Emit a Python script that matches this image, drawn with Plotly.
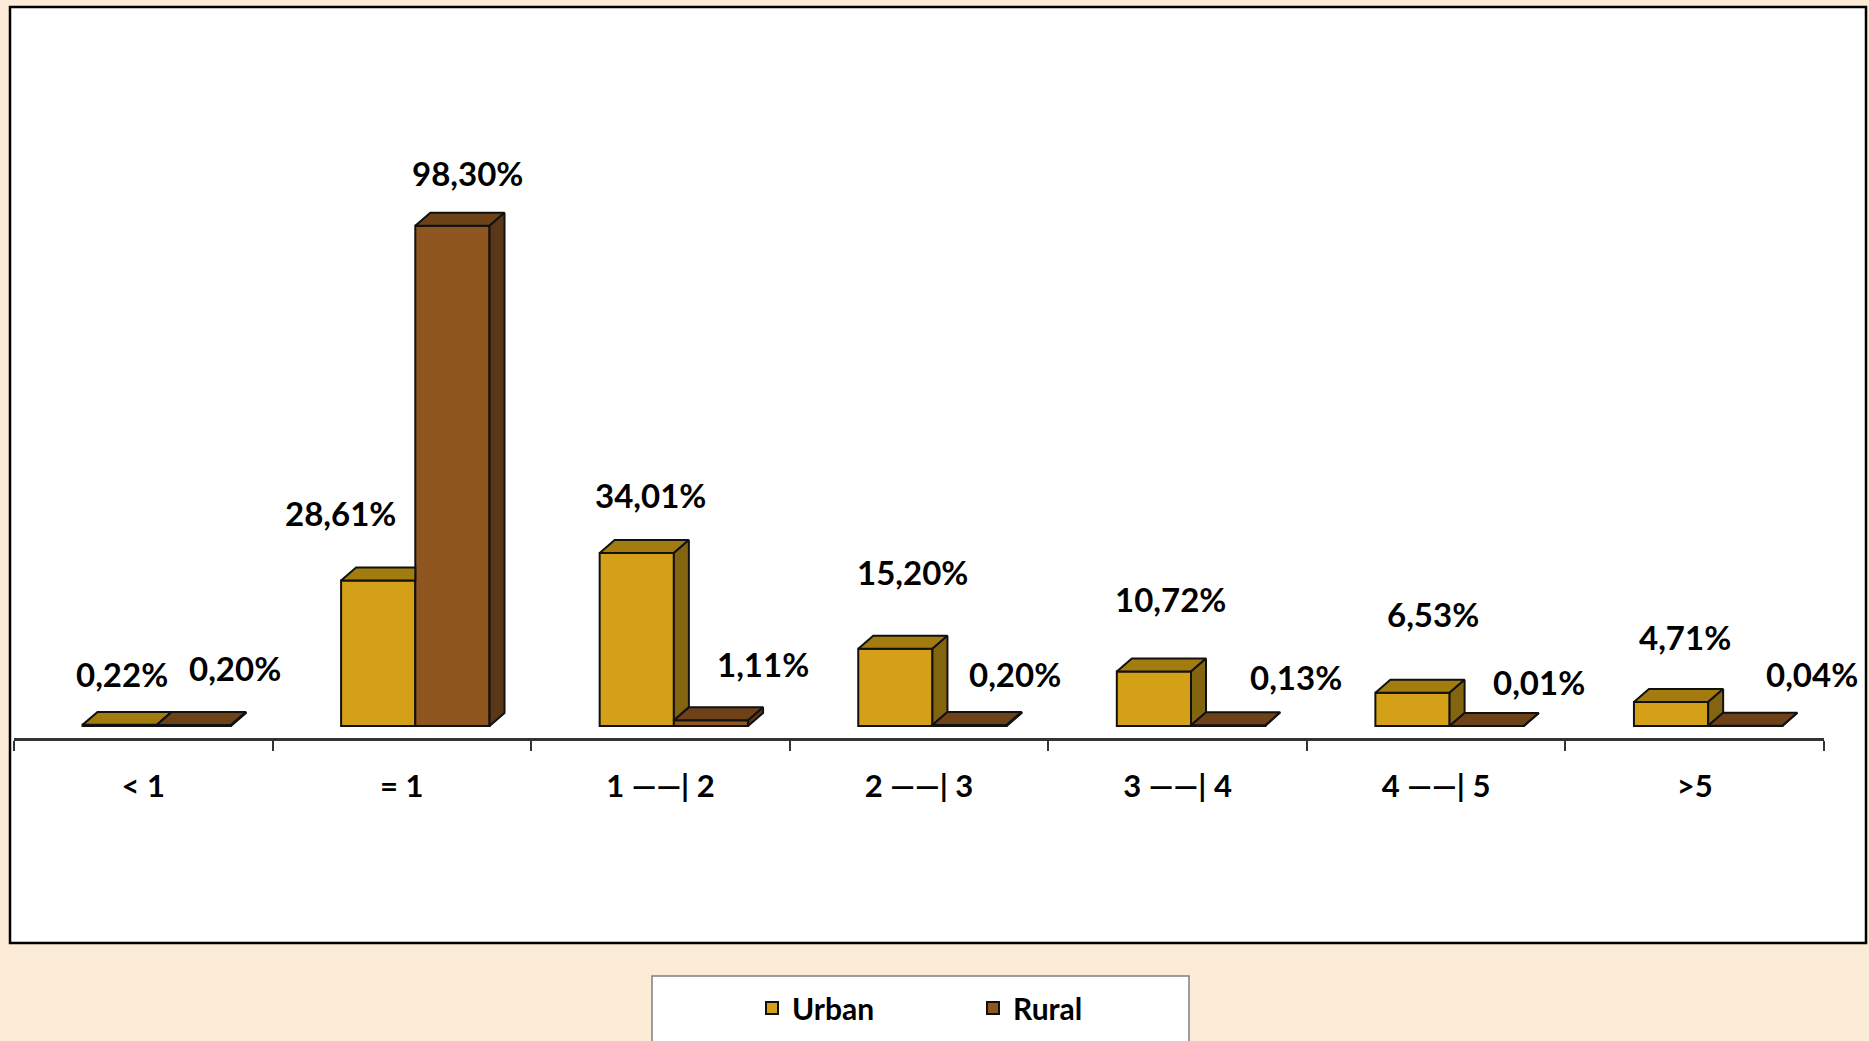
import plotly.graph_objects as go

# ---------------- data ----------------
categories = ["< 1", "= 1", "1 ——| 2", "2 ——| 3", "3 ——| 4", "4 ——| 5", ">5"]
urban = [0.22, 28.61, 34.01, 15.20, 10.72, 6.53, 4.71]
rural = [0.20, 98.30, 1.11, 0.20, 0.13, 0.01, 0.04]
series_names = ["Urban", "Rural"]

# ---------------- style ----------------
W, H = 1869, 1041
PL, PR, PT, PB = 14, 45, 7, 303          # plot-area margins (px)
FONT = "Lato"
BG = "#FBEBD7"
URB = dict(front="#D4A017", top="#A27C0E", side="#836510")
RUR = dict(front="#8F5620", top="#6E4219", side="#5A3716")
OUT = "#111111"
BAR_W = 0.287
URB_OFF = -0.235
RUR_OFF = URB_OFF + BAR_W
DX = 0.058    # 3-D depth, category units
DY = 2.55     # 3-D depth, value units
Y_RANGE = [-2.36, 141.3]
LBL_SIZE = 33
TICK_SIZE = 31

# label pixel offsets (style only)
urb_lbl_dx = [2, -38, 14, 17, 17, 21, 14]
urb_lbl_dy = [51, 67, 58, 77, 72, 79, 65]
rur_lbl_dx = [41, 15, 52, 45, 68, 52, 67]
rur_lbl_dy = [57, 53, 56, 51, 48, 44, 52]

n = len(categories)
xs = list(range(n))

def fmt(v):
    return f"{v:.2f}".replace(".", ",") + "%"

def top_poly(x0, x1, h):
    return [x0, x1, x1 + DX, x0 + DX, x0, None], [h, h, h + DY, h + DY, h, None]

def side_poly(x1, h0, h1):
    return [x1, x1 + DX, x1 + DX, x1, x1, None], [h0, h0 + DY, h1 + DY, h1, h0, None]

fig = go.Figure()

# front faces as real bars
fig.add_trace(go.Bar(x=xs, y=urban, name=series_names[0], width=BAR_W, offset=URB_OFF,
                     marker=dict(color=URB["front"], line=dict(color=OUT, width=2)),
                     hoverinfo="skip"))
fig.add_trace(go.Bar(x=xs, y=rural, name=series_names[1], width=BAR_W, offset=RUR_OFF,
                     marker=dict(color=RUR["front"], line=dict(color=OUT, width=2)),
                     hoverinfo="skip"))

# 3-D faces computed from the data
ut_x, ut_y, us_x, us_y, rt_x, rt_y, rs_x, rs_y = ([] for _ in range(8))
for i in xs:
    ux0, ux1 = i + URB_OFF, i + URB_OFF + BAR_W
    rx0, rx1 = i + RUR_OFF, i + RUR_OFF + BAR_W
    hu, hr = urban[i], rural[i]
    if hr >= hu:   # urban top partly hidden behind rural front
        px = [ux0, ux1, ux1, ux0 + DX, ux0, None]
        py = [hu, hu, hu + DY, hu + DY, hu, None]
    else:
        px, py = top_poly(ux0, ux1, hu)
        sx, sy = side_poly(ux1, hr, hu)
        us_x += sx; us_y += sy
    ut_x += px; ut_y += py
    px, py = top_poly(rx0, rx1, hr)
    rt_x += px; rt_y += py
    sx, sy = side_poly(rx1, 0, hr)
    rs_x += sx; rs_y += sy

for fx, fy, col in [(ut_x, ut_y, URB["top"]), (us_x, us_y, URB["side"]),
                    (rt_x, rt_y, RUR["top"]), (rs_x, rs_y, RUR["side"])]:
    fig.add_trace(go.Scatter(x=fx, y=fy, mode="lines", fill="toself", fillcolor=col,
                             line=dict(color=OUT, width=2), showlegend=False,
                             hoverinfo="skip"))

# data labels
ann = []
for i in xs:
    ann.append(dict(x=i + URB_OFF + BAR_W / 2, y=urban[i], xref="x", yref="y",
                    text=fmt(urban[i]), showarrow=False, xanchor="center", yanchor="middle",
                    xshift=urb_lbl_dx[i], yshift=urb_lbl_dy[i],
                    font=dict(family=FONT, size=LBL_SIZE, color="#000000", weight="bold")))
    ann.append(dict(x=i + RUR_OFF + BAR_W / 2, y=rural[i], xref="x", yref="y",
                    text=fmt(rural[i]), showarrow=False, xanchor="center", yanchor="middle",
                    xshift=rur_lbl_dx[i], yshift=rur_lbl_dy[i],
                    font=dict(family=FONT, size=LBL_SIZE, color="#000000", weight="bold")))

pw = W - PL - PR
ph = H - PT - PB
def px2x(p):
    return (p - PL) / pw
def py2y(p):
    return (H - PB - p) / ph

shapes = [
    dict(type="rect", xref="paper", yref="paper", layer="below",
         x0=px2x(10), x1=px2x(1866), y0=py2y(943), y1=py2y(7),
         fillcolor="#FFFFFF", line=dict(color="#000000", width=2.5)),
    dict(type="rect", xref="paper", yref="paper", layer="below",
         x0=px2x(652), x1=px2x(1189), y0=py2y(1070), y1=py2y(976),
         fillcolor="#FFFFFF", line=dict(color="#7F7F7F", width=1.5)),
]

fig.update_layout(
    width=W, height=H,
    margin=dict(l=PL, r=PR, t=PT, b=PB),
    paper_bgcolor=BG, plot_bgcolor="rgba(0,0,0,0)",
    barmode="overlay",
    showlegend=True,
    legend=dict(orientation="h", x=px2x(752), y=py2y(1008), xanchor="left", yanchor="middle",
                bgcolor="rgba(0,0,0,0)", borderwidth=0, entrywidth=176,
                font=dict(family=FONT, size=30, color="#000000", weight="bold"),
                traceorder="normal"),
    xaxis=dict(range=[-0.5, n - 0.5], tickmode="array", tickvals=xs, ticktext=categories,
               ticks="", showline=True, linecolor="#333333", linewidth=2.5,
               showgrid=False, zeroline=False, ticklabelstandoff=19,
               tickfont=dict(family=FONT, size=TICK_SIZE, color="#000000", weight="bold"),
               minor=dict(tickmode="array", tickvals=[k - 0.5 for k in range(n + 1)],
                          ticks="outside", ticklen=10, tickwidth=1.5, tickcolor="#333333",
                          showgrid=False)),
    yaxis=dict(range=Y_RANGE, visible=False, showgrid=False, zeroline=False),
    shapes=shapes,
    annotations=ann,
)

fig.write_html("out.html", config={"displayModeBar": False},
               post_script="document.body.style.margin='0';document.body.style.background='%s';" % BG)
